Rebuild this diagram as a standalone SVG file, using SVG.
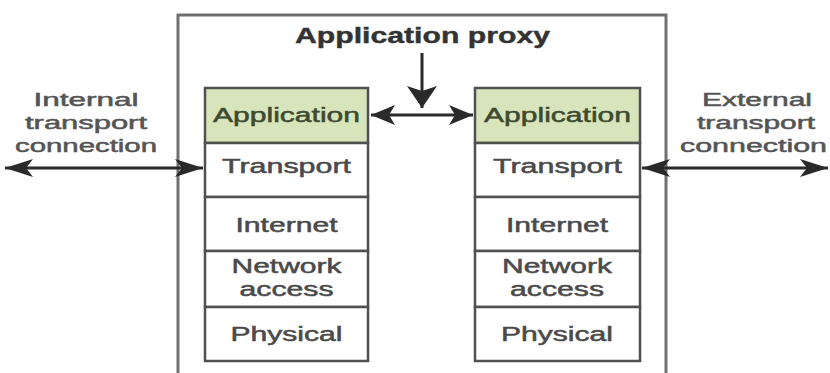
<svg xmlns="http://www.w3.org/2000/svg" width="830" height="373" viewBox="0 0 830 373">
<defs>
<style>
.t{font-family:"Liberation Sans",Arial,sans-serif;font-size:20px;fill:#4a4a4a;stroke:#4a4a4a;stroke-width:0.5;text-anchor:middle}
.s{font-family:"Liberation Sans",Arial,sans-serif;font-size:18px;fill:#555;stroke:#555;stroke-width:0.5;text-anchor:middle}
.app{fill:#3e4a30;stroke:#3e4a30}
.cell{fill:#fff;stroke:#505050;stroke-width:2.5}
.green{fill:#d8e5bc}
.ln{stroke:#2a2a2a;stroke-width:3;fill:none}
</style>
<marker id="ah" markerUnits="userSpaceOnUse" markerWidth="30" markerHeight="20" refX="28" refY="9" orient="auto-start-reverse">
<path d="M0,0 L28,9 L0,18 L7,9 z" fill="#2a2a2a"/>
</marker>
<marker id="ahs" markerUnits="userSpaceOnUse" markerWidth="30" markerHeight="22" refX="24" refY="10" orient="auto-start-reverse">
<path d="M0,0 L24,10 L0,20 L6,10 z" fill="#2a2a2a"/>
</marker>
<marker id="ahd" markerUnits="userSpaceOnUse" markerWidth="24" markerHeight="32" refX="22" refY="15" orient="auto">
<path d="M0,0 L22,15 L0,30 L5,15 z" fill="#2a2a2a"/>
</marker>
</defs>
<rect width="830" height="373" fill="#fff"/>
<g id="proxy">
<rect x="178" y="15" width="488" height="370" fill="none" stroke="#707070" stroke-width="3"/>
<text x="422.5" y="43" style="font-family:'Liberation Sans',Arial,sans-serif;font-size:22px;font-weight:bold;fill:#333;stroke:#333;stroke-width:0.4;text-anchor:middle" textLength="255" lengthAdjust="spacingAndGlyphs">Application proxy</text>
</g>
<g id="left-stack">
<rect class="cell green" x="205" y="88" width="163" height="55"/>
<rect class="cell" x="205" y="143" width="163" height="54"/>
<rect class="cell" x="205" y="197" width="163" height="54"/>
<rect class="cell" x="205" y="251" width="163" height="56"/>
<rect class="cell" x="205" y="307" width="163" height="54"/>
<text class="t app" x="286.5" y="122" textLength="147" lengthAdjust="spacingAndGlyphs">Application</text>
<text class="t" x="286.5" y="173" textLength="129" lengthAdjust="spacingAndGlyphs">Transport</text>
<text class="t" x="286.5" y="232" textLength="102" lengthAdjust="spacingAndGlyphs">Internet</text>
<text class="t" x="286.5" y="273" textLength="110" lengthAdjust="spacingAndGlyphs">Network</text>
<text class="t" x="286.5" y="296" textLength="94" lengthAdjust="spacingAndGlyphs">access</text>
<text class="t" x="286.5" y="341" textLength="112" lengthAdjust="spacingAndGlyphs">Physical</text>
</g>
<g id="right-stack">
<rect class="cell green" x="475" y="88" width="165" height="55"/>
<rect class="cell" x="475" y="143" width="165" height="54"/>
<rect class="cell" x="475" y="197" width="165" height="54"/>
<rect class="cell" x="475" y="251" width="165" height="56"/>
<rect class="cell" x="475" y="307" width="165" height="54"/>
<text class="t app" x="557.5" y="122" textLength="147" lengthAdjust="spacingAndGlyphs">Application</text>
<text class="t" x="557.5" y="173" textLength="129" lengthAdjust="spacingAndGlyphs">Transport</text>
<text class="t" x="557" y="232" textLength="102" lengthAdjust="spacingAndGlyphs">Internet</text>
<text class="t" x="557" y="273" textLength="110" lengthAdjust="spacingAndGlyphs">Network</text>
<text class="t" x="557" y="296" textLength="94" lengthAdjust="spacingAndGlyphs">access</text>
<text class="t" x="557" y="341" textLength="112" lengthAdjust="spacingAndGlyphs">Physical</text>
</g>
<g id="internal-label">
<text class="s" x="86" y="106" textLength="105" lengthAdjust="spacingAndGlyphs">Internal</text>
<text class="s" x="86" y="129" textLength="122" lengthAdjust="spacingAndGlyphs">transport</text>
<text class="s" x="86" y="152" textLength="142" lengthAdjust="spacingAndGlyphs">connection</text>
</g>
<g id="external-label">
<text class="s" x="757" y="106" textLength="110" lengthAdjust="spacingAndGlyphs">External</text>
<text class="s" x="756" y="129" textLength="118" lengthAdjust="spacingAndGlyphs">transport</text>
<text class="s" x="753.5" y="152" textLength="147" lengthAdjust="spacingAndGlyphs">connection</text>
</g>
<g id="connectors">
<line class="ln" x1="5" y1="168" x2="203" y2="168" marker-start="url(#ah)" marker-end="url(#ah)"/>
<line class="ln" x1="642" y1="168" x2="828" y2="168" marker-start="url(#ah)" marker-end="url(#ah)"/>
<line class="ln" x1="371" y1="115" x2="473" y2="115" marker-start="url(#ahs)" marker-end="url(#ahs)"/>
<line class="ln" x1="422" y1="53" x2="422" y2="108" marker-end="url(#ahd)"/>
</g>
</svg>
